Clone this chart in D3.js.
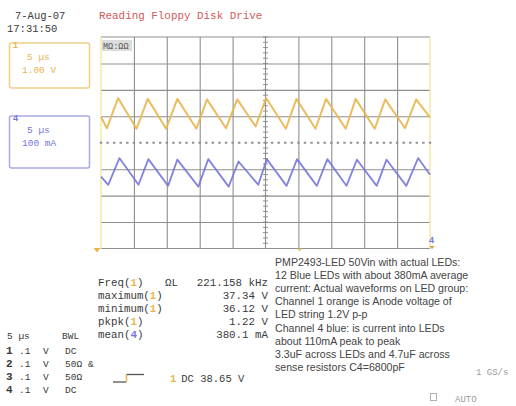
<!DOCTYPE html>
<html>
<head>
<meta charset="utf-8">
<script src="https://cdn.jsdelivr.net/npm/d3@7"></script>
<style>
  html, body { margin: 0; padding: 0; background: #fff; }
  svg { display: block; }
  .mono { font-family: "Liberation Mono", "DejaVu Sans Mono", monospace; }
  .sans { font-family: "Liberation Sans", Arial, sans-serif; }
</style>
</head>
<body>
<svg id="scope" width="516" height="406"></svg>
<script>
// ---- Acquisition settings ----
const timePerDiv = 5;            // µs / div
const horizDivs = 10;
const vertDivs = 8;

// Channel 1 (anode voltage), 1 V/div
const ch1Scale = 1.0;            // V / div
const ch1Offset = 35.66;         // V at centre graticule
const ch1Time = [0, 0.9, 2.6, 5.4, 7.1, 9.9, 11.6, 14.5, 16.1, 19.0, 20.7, 23.5,
                 25.1, 28.1, 29.7, 32.6, 34.2, 37.2, 38.7, 41.6, 43.2, 46.2, 47.9, 50];
const ch1Volts = [36.64, 36.21, 37.35, 36.19, 37.32, 36.19, 37.32, 36.19, 37.30, 36.21, 37.30, 36.28,
                  37.35, 36.19, 37.32, 36.19, 37.32, 36.19, 37.32, 36.19, 37.30, 36.21, 37.30, 36.62];

// Channel 4 (LED current), 100 mA/div
const ch4Scale = 100;            // mA / div
const ch4Offset = 492;           // mA at centre graticule
const ch4Time = [0, 1.1, 2.8, 5.7, 7.2, 10.2, 11.6, 14.8, 16.3, 19.4, 20.9, 23.9,
                 25.2, 28.2, 29.8, 32.8, 34.4, 37.3, 38.9, 41.9, 43.4, 46.4, 48.2, 50];
const ch4mA = [364, 333, 434, 333, 430, 329, 428, 326, 430, 326, 421, 333,
               430, 329, 430, 329, 430, 329, 428, 329, 428, 329, 434, 371];

// Measurement panel
const measLabels = ["Freq(", "maximum(", "minimum(", "pkpk(", "mean("];
const measChannels = ["1", "1", "1", "1", "4"];
const measValues = ["221.158 kHz", "37.34 V", "36.12 V", "1.22 V", "380.1 mA"];

// Channel setup table
const chanNumbers = ["1", "2", "3", "4"];
const chanVoltsDiv = [".1", ".1", ".1", ".1"];
const chanCoupling = ["DC", "50Ω", "50Ω", "DC"];

// Annotation
const noteLines = [
  "PMP2493-LED 50Vin with actual LEDs:",
  "12 Blue LEDs with about 380mA average",
  "current: Actual waveforms on LED group:",
  "Channel 1 orange is Anode voltage of",
  "LED string 1.2V p-p",
  "Channel 4 blue: is current into LEDs",
  "about 110mA peak to peak",
  "3.3uF across LEDs and 4.7uF across",
  "sense resistors C4=6800pF"
];

const orange = "#e8b650";
const orangeLight = "#f0cf85";
const blue = "#7676dc";
const blueLight = "#a9a9e8";
const gridColor = "#8f8f8f";
const textDark = "#3a3a3a";

const svg = d3.select("#scope");

// ---- Scales ----
const gLeft = 101, gRight = 430, gTop = 37, gBottom = 248.5;
const x = d3.scaleLinear().domain([0, timePerDiv * horizDivs]).range([gLeft, gRight]);
const y = d3.scaleLinear().domain([-vertDivs / 2, vertDivs / 2]).range([gBottom, gTop]);

// ---- Graticule ----
const grid = svg.append("g");
const vTicks = d3.range(1, horizDivs).map(i => i * timePerDiv).filter(t => t !== 25);
const hTicks = d3.range(-vertDivs / 2 + 1, vertDivs / 2).filter(d => d !== 0);

grid.append("g")
  .attr("transform", `translate(0,${gBottom})`)
  .call(d3.axisBottom(x).tickValues(vTicks).tickSize(-(gBottom - gTop)).tickFormat(""))
  .call(g => g.select(".domain").remove())
  .call(g => g.selectAll("line").attr("stroke", gridColor).attr("stroke-width", 1.1));

grid.append("g")
  .attr("transform", `translate(${gLeft},0)`)
  .call(d3.axisLeft(y).tickValues(hTicks).tickSize(-(gRight - gLeft)).tickFormat(""))
  .call(g => g.select(".domain").remove())
  .call(g => g.selectAll("line").attr("stroke", gridColor).attr("stroke-width", 1.1));

// top and bottom frame
grid.append("line").attr("x1", gLeft).attr("x2", gRight).attr("y1", gTop).attr("y2", gTop)
  .attr("stroke", gridColor).attr("stroke-width", 1.1);
grid.append("line").attr("x1", gLeft).attr("x2", gRight).attr("y1", gBottom).attr("y2", gBottom)
  .attr("stroke", gridColor).attr("stroke-width", 1.1);
// side frame (yellow)
[gLeft, gRight].forEach(px => grid.append("line")
  .attr("x1", px).attr("x2", px).attr("y1", gTop).attr("y2", gBottom)
  .attr("stroke", "#f2e48c").attr("stroke-width", 1.2));

// centre vertical axis with minor ticks
const xc = x(25);
grid.append("line").attr("x1", xc).attr("x2", xc).attr("y1", gTop).attr("y2", gBottom)
  .attr("stroke", gridColor).attr("stroke-width", 1.1);
const minorY = d3.range(-vertDivs / 2, vertDivs / 2 + 0.001, 0.2);
grid.selectAll(".minorY").data(minorY).join("line")
  .attr("x1", xc - 2.5).attr("x2", xc + 2.5)
  .attr("y1", d => y(d)).attr("y2", d => y(d))
  .attr("stroke", gridColor).attr("stroke-width", 1);

// centre horizontal axis: dotted
const minorX = d3.range(0, timePerDiv * horizDivs + 0.001, timePerDiv / 5);
grid.selectAll(".minorX").data(minorX).join("line")
  .attr("x1", d => x(d) - 1.2).attr("x2", d => x(d) + 1.2)
  .attr("y1", y(0)).attr("y2", y(0))
  .attr("stroke", gridColor).attr("stroke-width", 2);

// trace label in upper-left of the graticule
svg.append("rect").attr("x", 102).attr("y", 40).attr("width", 30).attr("height", 11)
  .attr("fill", "#dcdcdc");
svg.append("text").attr("class", "mono").attr("x", 103).attr("y", 49)
  .attr("font-size", 8.5).attr("fill", "#555").text("MΩ:ΩΩ");

// ---- Traces ----
const line = d3.line().x(d => x(d[0])).y(d => y(d[1]));
const ch1Data = ch1Time.map((t, i) => [t, (ch1Volts[i] - ch1Offset) / ch1Scale]);
const ch4Data = ch4Time.map((t, i) => [t, (ch4mA[i] - ch4Offset) / ch4Scale]);

svg.append("path").datum(ch1Data).attr("d", line)
  .attr("fill", "none").attr("stroke", orange).attr("stroke-width", 2)
  .attr("stroke-linejoin", "round").attr("stroke-opacity", 0.9);
svg.append("path").datum(ch4Data).attr("d", line)
  .attr("fill", "none").attr("stroke", blue).attr("stroke-width", 1.8)
  .attr("stroke-linejoin", "round").attr("stroke-opacity", 0.9);

// ---- Markers around graticule ----
const tri = (cx, cy, s) => `M${cx - s},${cy} L${cx + s},${cy} L${cx},${cy + s * 1.3} Z`;
svg.append("path").attr("d", tri(97, 248, 3.5)).attr("fill", orange);
svg.append("path").attr("d", tri(x(30.2), 248.5, 2.2)).attr("fill", orange);
svg.append("path").attr("d", tri(432, 246, 2.5)).attr("fill", "#e59a4a");
svg.append("text").attr("class", "sans").attr("x", 429).attr("y", 243)
  .attr("font-size", 9).attr("font-weight", "bold").attr("fill", blue).text("4");

// ---- Header ----
svg.append("text").attr("class", "mono").attr("x", 15).attr("y", 19)
  .attr("font-size", 10.5).attr("fill", textDark).text("7-Aug-07");
svg.append("text").attr("class", "mono").attr("x", 7).attr("y", 32)
  .attr("font-size", 10.5).attr("fill", textDark).text("17:31:50");
svg.append("text").attr("class", "mono").attr("x", 99).attr("y", 19)
  .attr("font-size", 10.9).attr("fill", "#cf5a5a").text("Reading Floppy Disk Drive");

// ---- Channel descriptor boxes ----
function chanBox(top, h, col, colLight, label, lines) {
  const g = svg.append("g");
  g.append("rect").attr("x", 9.5).attr("y", top).attr("width", 80).attr("height", h)
    .attr("rx", 2).attr("fill", "none").attr("stroke", colLight).attr("stroke-width", 1.5);
  g.append("text").attr("class", "sans").attr("x", 13).attr("y", top + 5)
    .attr("font-size", 9).attr("font-weight", "bold").attr("fill", col).text(label);
  lines.forEach((t, i) => g.append("text").attr("class", "mono")
    .attr("x", t[1]).attr("y", top + 17 + i * 12.5)
    .attr("font-size", 9.5).attr("fill", col).text(t[0]));
}
chanBox(43, 45, orange, orangeLight, "1", [["5 µs", 27], ["1.00 V", 22]]);
chanBox(116, 52, blue, blueLight, "4", [["5 µs", 27], ["100 mA", 22]]);

// ---- Measurement panel ----
const meas = svg.append("g").attr("class", "mono").attr("font-size", 10.8).attr("fill", textDark);
measLabels.forEach((lab, i) => {
  const yy = 286 + i * 13.1;
  const t = meas.append("text").attr("x", 98).attr("y", yy);
  t.append("tspan").text(lab);
  t.append("tspan").attr("fill", measChannels[i] === "1" ? orange : blue)
    .attr("font-weight", "bold").text(measChannels[i]);
  t.append("tspan").text(")");
  meas.append("text").attr("x", 268).attr("y", yy).attr("text-anchor", "end").text(measValues[i]);
});
meas.append("text").attr("x", 165).attr("y", 286).text("ΩL");

// ---- Annotation ----
const note = svg.append("g").attr("class", "sans").attr("font-size", 10.6).attr("fill", "#444");
noteLines.forEach((t, i) => note.append("text").attr("x", 275).attr("y", 266 + i * 13.1).text(t));

// ---- Timebase / channel table ----
const tb = svg.append("g").attr("class", "mono").attr("font-size", 9.5).attr("fill", textDark);
tb.append("text").attr("x", 7).attr("y", 339).text("5 µs");
tb.append("text").attr("x", 62).attr("y", 339).text("BWL");
chanNumbers.forEach((c, i) => {
  const yy = 354 + i * 13;
  tb.append("text").attr("x", 6).attr("y", yy).attr("font-weight", "bold").attr("font-size", 11).text(c);
  tb.append("text").attr("x", 19).attr("y", yy).text(chanVoltsDiv[i]);
  tb.append("text").attr("x", 43).attr("y", yy).text("V");
  tb.append("text").attr("x", 65).attr("y", yy).text(chanCoupling[i]);
});
tb.append("text").attr("x", 88).attr("y", 367).text("&");

// ---- Trigger ----
svg.append("path").attr("d", "M113,382 H126.5").attr("stroke", "#555").attr("stroke-width", 1.3).attr("fill", "none");
svg.append("path").attr("d", "M126.5,382 V374.5").attr("stroke", orange).attr("stroke-width", 1.5).attr("fill", "none");
svg.append("path").attr("d", "M126.5,374.5 H144").attr("stroke", "#555").attr("stroke-width", 1.3).attr("fill", "none");
const trig = svg.append("text").attr("class", "mono").attr("x", 170).attr("y", 382)
  .attr("font-size", 10.5).attr("fill", textDark);
trig.append("tspan").attr("fill", orange).attr("font-weight", "bold").text("1");
trig.append("tspan").attr("dx", 5).text("DC 38.65 V");

// ---- Acquisition status ----
svg.append("text").attr("class", "mono").attr("x", 476).attr("y", 375)
  .attr("font-size", 9).attr("fill", "#9a9a9a").text("1 GS/s");
svg.append("rect").attr("x", 430.5).attr("y", 393.5).attr("width", 6).attr("height", 7)
  .attr("fill", "none").attr("stroke", "#b0b0b0").attr("stroke-width", 1);
svg.append("text").attr("class", "mono").attr("x", 455).attr("y", 402)
  .attr("font-size", 9).attr("fill", "#9a9a9a").text("AUTO");
</script>
</body>
</html>
